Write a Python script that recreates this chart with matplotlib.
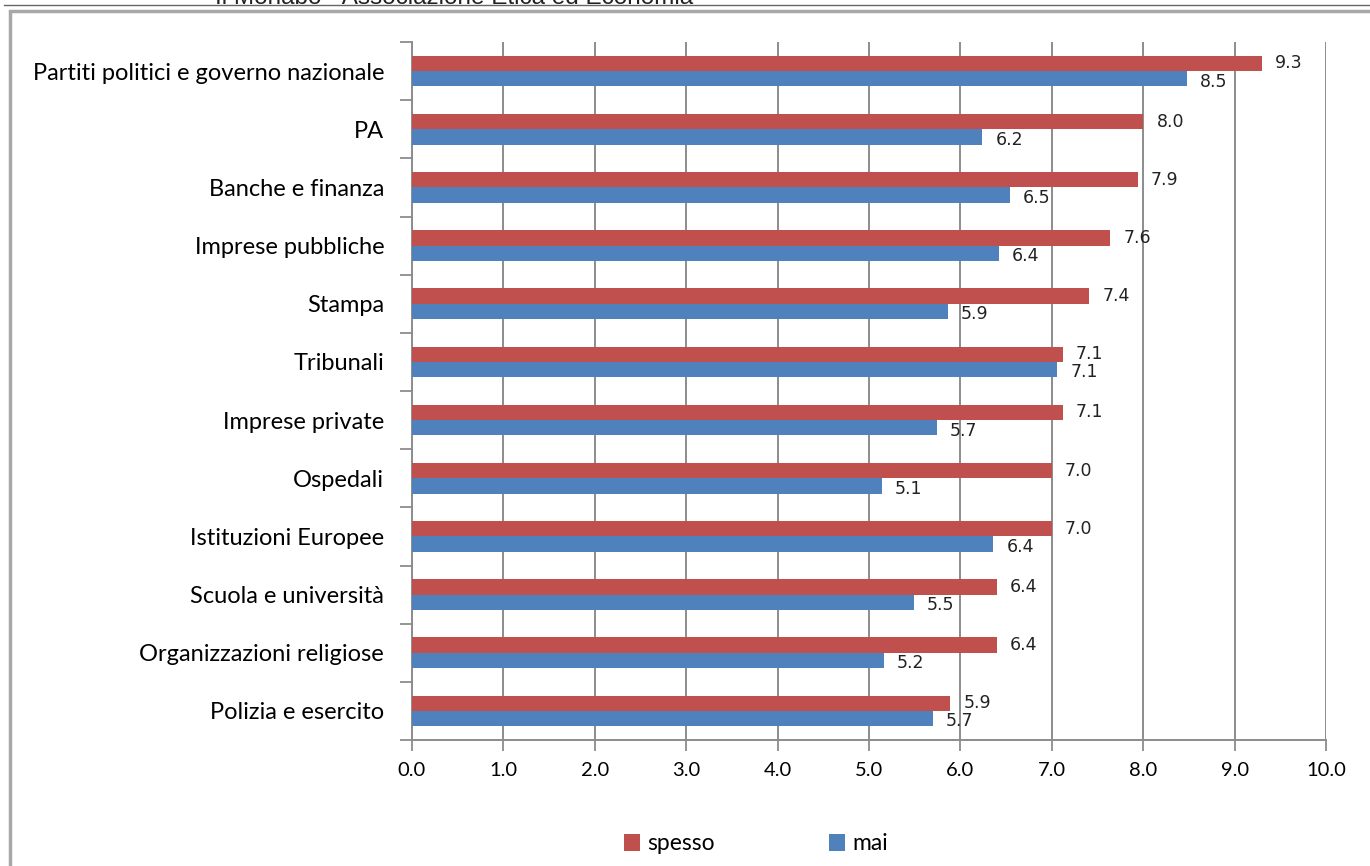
import matplotlib
matplotlib.use("Agg")
import matplotlib.pyplot as plt
from matplotlib.patches import Rectangle
from matplotlib.lines import Line2D
import numpy as np

categories = [
    "Partiti politici e governo nazionale",
    "PA",
    "Banche e finanza",
    "Imprese pubbliche",
    "Stampa",
    "Tribunali",
    "Imprese private",
    "Ospedali",
    "Istituzioni Europee",
    "Scuola e università",
    "Organizzazioni religiose",
    "Polizia e esercito",
]
spesso = [9.30, 8.00, 7.94, 7.64, 7.41, 7.12, 7.12, 7.00, 7.00, 6.40, 6.40, 5.89]
mai = [8.48, 6.24, 6.54, 6.42, 5.86, 7.06, 5.74, 5.14, 6.36, 5.49, 5.16, 5.70]
xticks = [0, 1, 2, 3, 4, 5, 6, 7, 8, 9, 10]

RED = "#c0504d"
BLUE = "#4f81bd"
GRID = "#8c8c8c"

W, H = 1370, 866
fig = plt.figure(figsize=(W / 100, H / 100), dpi=100)
fig.patch.set_facecolor("white")

# page header line, source caption and outer frame
fig.add_artist(Line2D([4 / W, 1], [1 - 5 / H, 1 - 5 / H], transform=fig.transFigure,
                      color="#666666", lw=1.0))
fig.add_artist(Rectangle((10 / W, -0.01), 1.0, 1 - 11.5 / H + 0.01, transform=fig.transFigure,
                         fill=False, edgecolor="#a8a8a8", lw=2.5))
fig.text(454 / W, 1 - 4 / H, "Il Monabo - Associazione Etica ed Economia",
         ha="center", va="baseline", fontsize=17.5, family="Liberation Sans", color="#222222")

ax = fig.add_axes([412 / W, 1 - 740 / H, (1326 - 412) / W, (740 - 42) / H])

y = np.arange(len(categories))
h = 0.265
ax.barh(y - h / 2, spesso, height=h, color=RED, label="spesso", zorder=3)
ax.barh(y + h / 2, mai, height=h, color=BLUE, label="mai", zorder=3)

lblfont = dict(fontsize=12.5, family="DejaVu Sans", color="#222222")
for yi, v in zip(y, spesso):
    ax.annotate(f"{v:.1f}", (v, yi - h / 2), xytext=(9.5, 0), textcoords="offset points",
                va="center", ha="left", **lblfont)
for yi, v in zip(y, mai):
    ax.annotate(f"{v:.1f}", (v, yi + h / 2), xytext=(9.5, -2), textcoords="offset points",
                va="center", ha="left", **lblfont)

ax.set_xlim(0, 10)
ax.set_ylim(len(categories) - 0.5, -0.5)
ax.set_xticks(xticks)
ax.set_xticklabels([f"{t:.1f}" for t in xticks], fontsize=14.5, family="Lato")
ax.set_yticks(y)
ax.set_yticklabels(categories, fontsize=17, family="Lato")
ax.set_yticks(np.arange(len(categories) + 1) - 0.5, minor=True)
ax.tick_params(axis="y", which="major", length=0, pad=20)
ax.tick_params(axis="y", which="minor", length=9, width=1.3, color=GRID, direction="out")
ax.tick_params(axis="x", length=8, width=1.3, color=GRID, direction="out", pad=8)

ax.grid(axis="x", color=GRID, lw=1.4, zorder=0)
ax.set_axisbelow(True)
for s in ("top", "right"):
    ax.spines[s].set_visible(False)
for s in ("left", "bottom"):
    ax.spines[s].set_color(GRID)
    ax.spines[s].set_linewidth(1.4)

fig.legend(handles=ax.get_legend_handles_labels()[0], labels=["spesso", "mai"],
           loc="center", bbox_to_anchor=(756 / W, 1 - 844 / H), ncol=2,
           frameon=False, handlelength=0.7, handleheight=0.7, handletextpad=0.3,
           columnspacing=5.0, prop={"family": "Lato", "size": 16.5})

fig.savefig("out.png", dpi=100)
